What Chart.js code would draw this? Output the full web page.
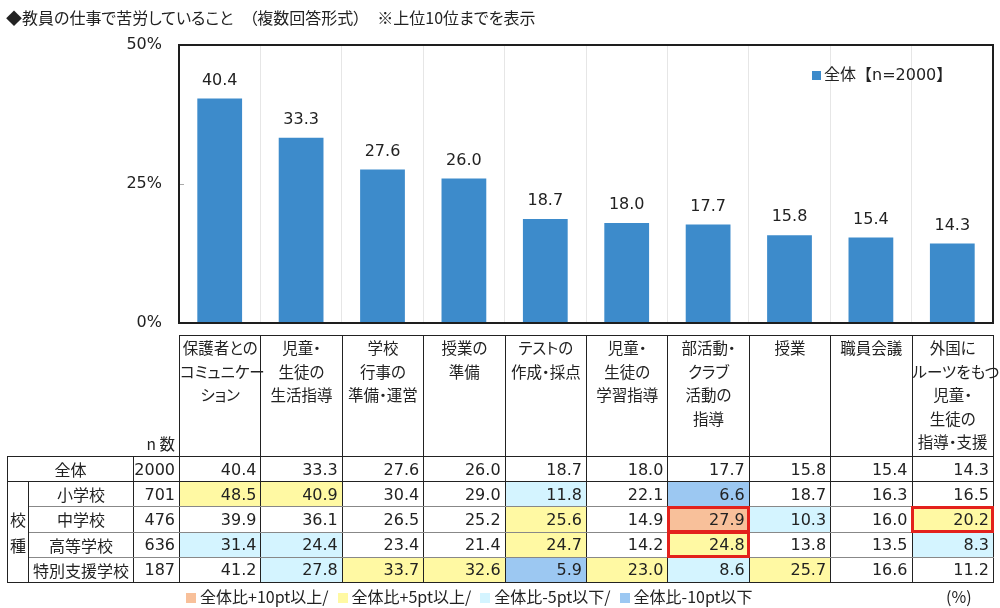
<!DOCTYPE html>
<html lang="ja">
<head>
<meta charset="utf-8">
<script src="https://cdn.jsdelivr.net/npm/chart.js@4.4.1/dist/chart.umd.min.js"></script>
<style>
  html,body{margin:0;padding:0;background:#fff;}
  #wrap{position:relative;width:1000px;height:608px;overflow:hidden;font-family:"DejaVu Sans","Noto Sans CJK JP",sans-serif;color:#222;}
  #c{position:absolute;left:0;top:0;}
  #title{position:absolute;left:6px;top:7px;font-size:16px;white-space:nowrap;font-family:"Noto Sans CJK JP",sans-serif;font-feature-settings:"palt";line-height:21px;}
  #tbl{position:absolute;left:7px;top:335px;border-collapse:collapse;table-layout:fixed;width:986px;}
  #tbl td{padding:0;font-size:16px;white-space:nowrap;overflow:visible;}
  #tbl .hd{border:1.5px solid #222;vertical-align:top;text-align:center;font-family:"Noto Sans CJK JP",sans-serif;font-feature-settings:"palt";font-size:15.5px;line-height:23.5px;padding-top:0px;}
  #tbl .nlab{text-align:right;vertical-align:bottom;font-family:"Noto Sans CJK JP",sans-serif;font-size:15.5px;padding-right:4px;padding-bottom:2px;}
  #tbl .num{text-align:right;padding-right:4px;border-left:1.5px solid #222;border-right:1.5px solid #222;border-top:1px solid #888;border-bottom:1px solid #888;}
  #tbl .lab{text-align:center;font-family:"Noto Sans CJK JP",sans-serif;font-size:16px;border-left:1.5px solid #222;border-right:1.5px solid #222;border-top:1px solid #888;border-bottom:1px solid #888;}
  #tbl .vlab{text-align:center;font-family:"Noto Sans CJK JP",sans-serif;font-size:16px;line-height:26px;border:1.5px solid #222;}
  #tbl tr.tot td{border-bottom:1.5px solid #222;border-top:1.5px solid #222;}
  #tbl tr.last td{border-bottom:1.5px solid #222;}
  #tbl tr.body{height:25.2px;}
  #tbl .hl{outline:3px solid #e3211c;outline-offset:-2px;}
  #leg{position:absolute;left:186px;top:586px;font-size:16px;white-space:nowrap;font-family:"Noto Sans CJK JP",sans-serif;line-height:21px;}
  #leg .sq{display:inline-block;width:10px;height:10px;margin-right:4px;vertical-align:0px;}
  #leg span.it{margin-right:9px;}
  #pct{position:absolute;left:946px;top:586px;font-size:16px;font-family:"Noto Sans CJK JP",sans-serif;line-height:21px;}
</style>
</head>
<body>
<div id="wrap">
  <canvas id="c" width="1000" height="608"></canvas>
  <div id="title"></div>
  <table id="tbl"></table>
  <div id="leg"></div>
  <div id="pct">(%)</div>
</div>
<script>
// ---- data ----
const titleText = "◆教員の仕事で苦労していること　（複数回答形式）　※上位10位までを表示";
const headerLines = [
  ["保護者との","コミュニケー","ション"],
  ["児童・","生徒の","生活指導"],
  ["学校","行事の","準備・運営"],
  ["授業の","準備"],
  ["テストの","作成・採点"],
  ["児童・","生徒の","学習指導"],
  ["部活動・","クラブ","活動の","指導"],
  ["授業"],
  ["職員会議"],
  ["外国に","ルーツをもつ","児童・","生徒の","指導・支援"]
];
const categories = headerLines.map(l => l.join(""));
const seriesLabel = "全体【n=2000】";
const overall = [40.4, 33.3, 27.6, 26.0, 18.7, 18.0, 17.7, 15.8, 15.4, 14.3];
const yTicks = [0, 25, 50];

const overallLabel = "全体";
const overallN = 2000;
const groupLabel = "校種";
const rowLabels = ["小学校", "中学校", "高等学校", "特別支援学校"];
const rowN = [701, 476, 636, 187];
const elementary = [48.5, 40.9, 30.4, 29.0, 11.8, 22.1, 6.6, 18.7, 16.3, 16.5];
const juniorHigh = [39.9, 36.1, 26.5, 25.2, 25.6, 14.9, 27.9, 10.3, 16.0, 20.2];
const highSchool = [31.4, 24.4, 23.4, 21.4, 24.7, 14.2, 24.8, 13.8, 13.5, 8.3];
const specialNeeds = [41.2, 27.8, 33.7, 32.6, 5.9, 23.0, 8.6, 25.7, 16.6, 11.2];
const rowValues = [elementary, juniorHigh, highSchool, specialNeeds];
// highlighted cells [row, column]
const highlighted = [[1, 6], [2, 6], [1, 9]];
const legendLabels = ["全体比+10pt以上/", "全体比+5pt以上/", "全体比-5pt以下/", "全体比-10pt以下"];

// ---- styles ----
const BAR = "#3d8bcb";
const C_P10 = "#f8c09a", C_P5 = "#fff9a3", C_M5 = "#d4f4ff", C_M10 = "#9cc8f2";
const legendColors = [C_P10, C_P5, C_M5, C_M10];

document.getElementById("title").textContent = titleText;

// ---- chart ----
const framePlugin = {
  id: "frame",
  afterDatasetsDraw(chart) {
    const {ctx} = chart;
    const meta = chart.getDatasetMeta(0);
    ctx.save();
    ctx.fillStyle = "#222";
    ctx.font = '16px "DejaVu Sans", "Noto Sans CJK JP", sans-serif';
    ctx.textAlign = "center";
    ctx.textBaseline = "bottom";
    meta.data.forEach((bar, i) => {
      ctx.fillText(overall[i].toFixed(1), bar.x, bar.y - 10);
    });
    ctx.restore();
  },
  afterDraw(chart) {
    const {ctx, chartArea: a, scales} = chart;
    ctx.save();
    ctx.strokeStyle = "#aaa";
    ctx.lineWidth = 1;
    const y25 = Math.round(scales.y.getPixelForValue(25)) + 0.5;
    ctx.beginPath(); ctx.moveTo(a.left, y25); ctx.lineTo(a.left + 5, y25); ctx.stroke();
    ctx.strokeStyle = "#1e1e1e";
    ctx.lineWidth = 2;
    ctx.strokeRect(a.left, a.top, a.right - a.left, a.bottom - a.top);
    const lx = 812, ly = 76;
    ctx.fillStyle = BAR;
    ctx.fillRect(lx, ly - 5, 9, 9);
    ctx.fillStyle = "#222";
    ctx.font = '16px "DejaVu Sans", "Noto Sans CJK JP", sans-serif';
    ctx.textAlign = "left";
    ctx.textBaseline = "middle";
    ctx.fillText(seriesLabel, lx + 12, ly);
    ctx.restore();
  }
};

new Chart(document.getElementById("c"), {
  type: "bar",
  data: {
    labels: categories,
    datasets: [{
      label: seriesLabel,
      data: overall,
      backgroundColor: BAR,
      barPercentage: 0.55,
      categoryPercentage: 1.0
    }]
  },
  options: {
    responsive: false,
    animation: false,
    devicePixelRatio: 1,
    layout: {padding: {top: 45, right: 7, bottom: 285, left: 0}},
    plugins: {legend: {display: false}, tooltip: {enabled: false}},
    scales: {
      x: {
        grid: {color: "#e6e6e6", lineWidth: 1, drawTicks: false, offset: true},
        border: {display: false},
        ticks: {display: false},
        afterFit(s) { s.height = 0; }
      },
      y: {
        min: 0, max: 50,
        afterBuildTicks(s) { s.ticks = yTicks.map(v => ({value: v})); },
        ticks: {
          callback: v => v + "%",
          padding: 17,
          color: "#222",
          font: {size: 16, family: '"DejaVu Sans", sans-serif'}
        },
        grid: {display: false, drawTicks: false},
        border: {display: false},
        afterFit(s) { s.width = 179; }
      }
    }
  },
  plugins: [framePlugin]
});

// ---- table ----
function colorFor(v, base) {
  const d = Math.round((v - base) * 10) / 10;
  if (d >= 10) return C_P10;
  if (d >= 5) return C_P5;
  if (d <= -10) return C_M10;
  if (d <= -5) return C_M5;
  return "";
}
const tbl = document.getElementById("tbl");
let html = '<colgroup><col style="width:21px"><col style="width:105px"><col style="width:46px">';
for (let i = 0; i < categories.length; i++) html += '<col style="width:81.4px">';
html += '</colgroup>';
html += '<tr style="height:121px"><td colspan="2"></td><td class="nlab">n 数</td>';
headerLines.forEach(l => { html += '<td class="hd">' + l.join("<br>") + '</td>'; });
html += '</tr>';
html += '<tr class="body tot"><td class="lab" colspan="2" style="border-left:1.5px solid #222">' + overallLabel + '</td><td class="num">' + overallN + '</td>';
overall.forEach(v => { html += '<td class="num">' + v.toFixed(1) + '</td>'; });
html += '</tr>';
rowLabels.forEach((lab, r) => {
  html += '<tr class="body' + (r === rowLabels.length - 1 ? ' last' : '') + '">';
  if (r === 0) html += '<td class="vlab" rowspan="' + rowLabels.length + '">' + groupLabel.split("").join("<br>") + '</td>';
  html += '<td class="lab">' + lab + '</td><td class="num">' + rowN[r] + '</td>';
  rowValues[r].forEach((v, c) => {
    const bg = colorFor(v, overall[c]);
    const hl = highlighted.some(p => p[0] === r && p[1] === c);
    html += '<td class="num' + (hl ? ' hl' : '') + '"' + (bg ? ' style="background:' + bg + '"' : '') + '>' + v.toFixed(1) + '</td>';
  });
  html += '</tr>';
});
tbl.innerHTML = html;

// ---- bottom legend ----
document.getElementById("leg").innerHTML = legendLabels.map((t, i) =>
  '<span class="it"><span class="sq" style="background:' + legendColors[i] + '"></span>' + t + '</span>'
).join("");
</script>
</body>
</html>
